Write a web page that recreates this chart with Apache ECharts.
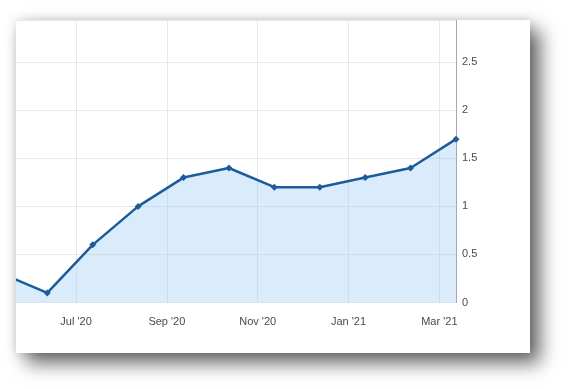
<!DOCTYPE html>
<html><head><meta charset="utf-8">
<script src="https://cdn.jsdelivr.net/npm/echarts/dist/echarts.min.js"></script>
<style>
html,body{margin:0;padding:0;background:#fff;width:574px;height:389px;overflow:hidden}
#panel{position:absolute;left:16px;top:20px;width:514px;height:333px;background:#fff;overflow:hidden;
  box-shadow:10px 10px 18px rgba(0,0,0,0.6),0 0 10px rgba(0,0,0,0.14)}
#chart{position:absolute;left:-56px;top:-20px;width:614px;height:389px}
</style></head><body>
<div id="panel"><div id="chart"></div></div>
<script>
// Observation dates and values
const dates = ['2020-05-12','2020-06-12','2020-07-12','2020-08-12','2020-09-12','2020-10-12',
               '2020-11-12','2020-12-12','2021-01-12','2021-02-12','2021-03-12'];
const values = [0.3, 0.1, 0.6, 1.0, 1.3, 1.4, 1.2, 1.2, 1.3, 1.4, 1.7];
const monthNames = ['Jan','Feb','Mar','Apr','May','Jun','Jul','Aug','Sep','Oct','Nov','Dec'];
const yMin = 0, yMax = 2.94, yStep = 0.5;

// month index since Jan 2020
function toMonthIndex(s){
  const [y,m,d] = s.split('-').map(Number);
  return (y-2020)*12 + (m-1) + (d-1)/30;
}
const xs = dates.map(toMonthIndex);
const seriesData = xs.map((x,i)=>[x, values[i]]);

const chart = echarts.init(document.getElementById('chart'), null, {renderer:'canvas'});
const font = 'Liberation Sans, Arial, sans-serif';
chart.setOption({
  animation:false,
  backgroundColor:'transparent',
  grid:{left:25.2, right:118, top:20, bottom:86.5, outerBoundsMode:'none', containLabel:false},
  xAxis:{
    type:'value', min:4, max:xs[xs.length-1], interval:2,
    axisLine:{show:false}, axisTick:{show:false},
    splitLine:{show:true, lineStyle:{color:'#e8e8e8', width:1}},
    axisLabel:{
      color:'#4a4a4a', fontSize:11, fontFamily:font, margin:14, showMaxLabel:false, showMinLabel:true,
      formatter:function(v){
        const m = Math.round(v);
        if (Math.abs(v-m) > 0.01) return '';
        const yr = 2020 + Math.floor(m/12);
        return monthNames[((m%12)+12)%12] + " '" + String(yr).slice(2);
      }
    }
  },
  yAxis:{
    type:'value', position:'right', min:yMin, max:yMax, interval:yStep,
    axisLine:{show:true, lineStyle:{color:'#a8a8a8', width:1}},
    axisTick:{show:false},
    splitLine:{show:true, lineStyle:{color:'#e8e8e8', width:1}},
    axisLabel:{color:'#4a4a4a', fontSize:11, fontFamily:font, margin:6, showMaxLabel:false,
      formatter:function(v){ return String(v); }}
  },
  series:[{
    type:'line', data:seriesData,
    symbol:'diamond', symbolSize:7, showAllSymbol:true,
    lineStyle:{color:'#1c5c9a', width:2.5},
    itemStyle:{color:'#1c5c9a'},
    areaStyle:{color:'rgba(150,200,247,0.5)', origin:'start'},
    clip:true
  }]
});
</script>
</body></html>
